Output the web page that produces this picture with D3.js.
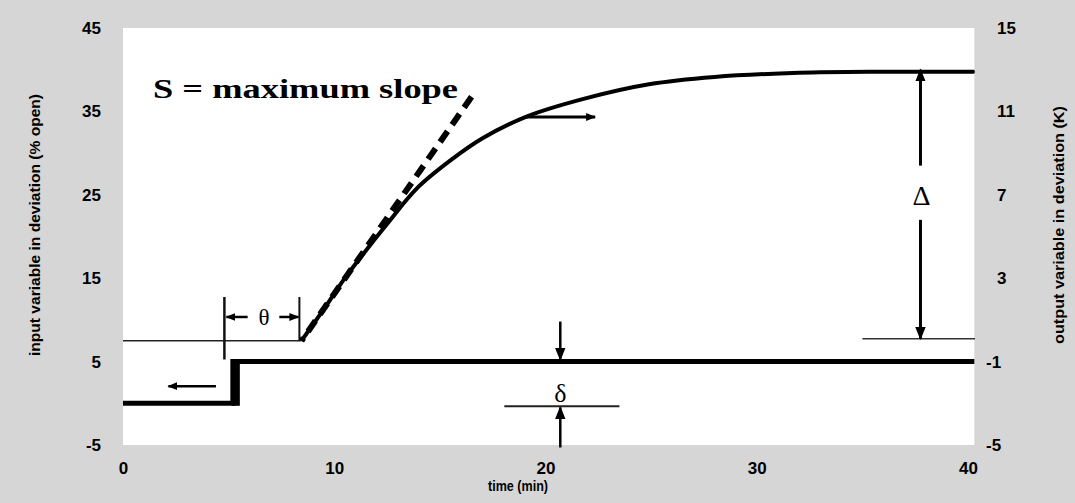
<!DOCTYPE html>
<html>
<head>
<meta charset="utf-8">
<script src="https://cdn.jsdelivr.net/npm/d3@7"></script>
<style>
  body { margin: 0; background: #d6d6d6; }
  svg { display: block; }
  .tick text { font-family: "Liberation Sans", Arial, sans-serif; font-weight: bold; font-size: 17px; fill: #000; }
</style>
</head>
<body>
<svg id="canvas" width="1075" height="503"></svg>
<script>
// axis ticks
const timeTicks = [0, 10, 20, 30, 40];
const inputTicks = [-5, 5, 15, 25, 35, 45];
const outputTicks = [-5, -1, 3, 7, 11, 15];

// input step (% open)
const inputTime = [0, 5.2, 40.3];
const inputValue = [0, 5, 5];

// output response (K)
const outputTime = [8.45, 9.5, 10.5, 11.4, 12.5, 13.9, 15.5, 17.0, 19.1, 21.8, 24.9, 28, 32, 36, 40.3];
const outputValue = [0, 1.5, 3.0, 4.2, 5.6, 7.3, 8.65, 9.7, 10.75, 11.6, 12.3, 12.65, 12.85, 12.9, 12.9];

// tangent at max slope
const slopeTime = [8.45, 16.5];
const slopeValue = [0, 11.7];

const deadStart = 4.8;
const deadEnd = 8.35;
const finalValue = 12.9;

const svg = d3.select('#canvas');

const x = d3.scaleLinear().domain([0, 40]).range([123, 968]);
const yL = d3.scaleLinear().domain([-5, 45]).range([445, 28]);
const yR = d3.scaleLinear().domain([-5, 15]).range([445, 28]);

// plot area
svg.append('rect')
  .attr('x', x(0)).attr('y', yL(45))
  .attr('width', x(40.3) - x(0)).attr('height', yL(-5) - yL(45))
  .attr('fill', '#fff');

let defs = svg.append('defs');
function marker (id, size) {
  defs.append('marker')
    .attr('id', id)
    .attr('viewBox', '0 0 10 10')
    .attr('refX', 9).attr('refY', 5)
    .attr('markerUnits', 'userSpaceOnUse')
    .attr('markerWidth', size).attr('markerHeight', size)
    .attr('orient', 'auto')
    .append('path')
    .attr('d', 'M0,1L10,5L0,9Z')
    .attr('fill', '#000');
}
marker('arrowBig', 13);
marker('arrowSmall', 10);

// axes
let gx = svg.append('g')
  .attr('transform', 'translate(0,' + yL(-5) + ')')
  .call(d3.axisBottom(x).tickValues(timeTicks).tickSize(0).tickPadding(17));
gx.select('.domain').remove();

let gl = svg.append('g')
  .attr('transform', 'translate(' + x(0) + ',0)')
  .call(d3.axisLeft(yL).tickValues(inputTicks).tickSize(0).tickPadding(22));
gl.select('.domain').remove();

let gr = svg.append('g')
  .attr('transform', 'translate(975,0)')
  .call(d3.axisRight(yR).tickValues(outputTicks).tickSize(0).tickPadding(22));
gr.select('.domain').remove();
gr.selectAll('.tick text').attr('dx', d => d < 0 ? -11 : 0);
svg.selectAll('.tick text').text(d => String(d).replace('−', '-'));

// axis titles
svg.append('text')
  .attr('transform', 'translate(40,225) rotate(-90)')
  .attr('text-anchor', 'middle')
  .attr('font-family', 'Liberation Sans, Arial, sans-serif')
  .attr('font-weight', 'bold').attr('font-size', 15)
  .attr('textLength', 262).attr('lengthAdjust', 'spacingAndGlyphs')
  .text('input variable in deviation (% open)');

svg.append('text')
  .attr('transform', 'translate(1064,225) rotate(-90)')
  .attr('text-anchor', 'middle')
  .attr('font-family', 'Liberation Sans, Arial, sans-serif')
  .attr('font-weight', 'bold').attr('font-size', 15)
  .attr('textLength', 238).attr('lengthAdjust', 'spacingAndGlyphs')
  .text('output variable in deviation (K)');

svg.append('text')
  .attr('x', 518).attr('y', 491)
  .attr('text-anchor', 'middle')
  .attr('font-family', 'Liberation Sans, Arial, sans-serif')
  .attr('font-weight', 'bold').attr('font-size', 15)
  .attr('textLength', 60).attr('lengthAdjust', 'spacingAndGlyphs')
  .text('time (min)');

// reference lines
function hline (t0, t1, yv, w, color) {
  svg.append('line')
    .attr('x1', x(t0)).attr('x2', x(t1))
    .attr('y1', yv).attr('y2', yv)
    .attr('stroke', color).attr('stroke-width', w);
}
hline(0, outputTime[0], yR(0), 1.6, '#222');
hline(35, 40.33, yR(finalValue), 2, '#333');
hline(35, 40.33, yR(0) - 2, 1.6, '#333');

// dead time markers
function vline (t, y1, y2, w) {
  svg.append('line')
    .attr('x1', x(t)).attr('x2', x(t))
    .attr('y1', y1).attr('y2', y2)
    .attr('stroke', '#111').attr('stroke-width', w);
}
vline(deadStart, yR(2.1), yR(-0.9), 2.5);
vline(deadEnd, yR(2.1), yR(0), 2);

// input step
svg.append('path')
  .datum(inputTime.map((t, i) => [t, inputValue[i]]))
  .attr('d', d3.line().x(d => x(d[0])).y(d => yL(d[1])).curve(d3.curveStepAfter))
  .attr('fill', 'none')
  .attr('stroke', '#000')
  .attr('stroke-width', 5)
  .attr('stroke-linejoin', 'miter');
svg.append('line')
  .attr('x1', x(inputTime[1]) + 3).attr('x2', x(inputTime[1]) + 3)
  .attr('y1', yL(inputValue[1])).attr('y2', yL(inputValue[0]) + 2.5)
  .attr('stroke', '#000').attr('stroke-width', 8);

// output curve
svg.append('path')
  .datum(outputTime.map((t, i) => [t, outputValue[i]]))
  .attr('d', d3.line().x(d => x(d[0])).y(d => yR(d[1])).curve(d3.curveCatmullRom.alpha(0.5)))
  .attr('fill', 'none')
  .attr('stroke', '#000')
  .attr('stroke-width', 4);

// max slope tangent
svg.append('path')
  .datum(slopeTime.map((t, i) => [t, slopeValue[i]]).reverse())
  .attr('d', d3.line().x(d => x(d[0])).y(d => yR(d[1])))
  .attr('fill', 'none')
  .attr('stroke', '#000')
  .attr('stroke-width', 6)
  .attr('stroke-dasharray', '13,8');

svg.append('text')
  .attr('x', 153).attr('y', 98)
  .attr('font-family', 'Liberation Serif, Times New Roman, serif')
  .attr('font-weight', 'bold').attr('font-size', 28)
  .attr('textLength', 305).attr('lengthAdjust', 'spacingAndGlyphs')
  .text('S = maximum slope');

// arrows
function arrow (x1, y1, x2, y2, w, m) {
  svg.append('line')
    .attr('x1', x1).attr('y1', y1).attr('x2', x2).attr('y2', y2)
    .attr('stroke', '#000').attr('stroke-width', w)
    .attr('marker-end', 'url(#' + m + ')');
}
// which axis each curve uses
arrow(x(4.4), yL(2.05), x(2.15), yL(2.05), 2.5, 'arrowSmall');
arrow(x(19.1), yR(10.73), x(22.35), yR(10.73), 3, 'arrowSmall');

// theta
arrow(x(5.9), yR(1.14), x(deadStart) + 2, yR(1.14), 2.5, 'arrowSmall');
arrow(x(7.4), yR(1.14), x(deadEnd) - 1, yR(1.14), 2.5, 'arrowSmall');
svg.append('text')
  .attr('x', x(6.68)).attr('y', yR(1.14) + 8)
  .attr('text-anchor', 'middle')
  .attr('font-family', 'Liberation Serif, Times New Roman, serif')
  .attr('font-size', 23)
  .text('θ');

// delta (input change)
arrow(x(20.7), yL(9.8), x(20.7), yL(5) - 2, 2.5, 'arrowBig');
arrow(x(20.7), yL(-5.3), x(20.7), yL(0) + 4, 2.5, 'arrowBig');
hline(18.05, 23.5, yL(0) + 3, 2, '#222');
svg.append('text')
  .attr('x', x(20.7)).attr('y', yL(1.25) + 9)
  .attr('text-anchor', 'middle')
  .attr('font-family', 'Liberation Serif, Times New Roman, serif')
  .attr('font-size', 26)
  .text('δ');

// Delta (output change)
arrow(x(37.75), yR(8.4), x(37.75), yR(finalValue) - 2, 3, 'arrowBig');
arrow(x(37.75), yR(5.8), x(37.75), yR(0) - 2, 3, 'arrowBig');
svg.append('text')
  .attr('x', x(37.8)).attr('y', yR(7.0) + 10)
  .attr('text-anchor', 'middle')
  .attr('font-family', 'Liberation Serif, Times New Roman, serif')
  .attr('font-size', 28)
  .text('Δ');
</script>
</body>
</html>
